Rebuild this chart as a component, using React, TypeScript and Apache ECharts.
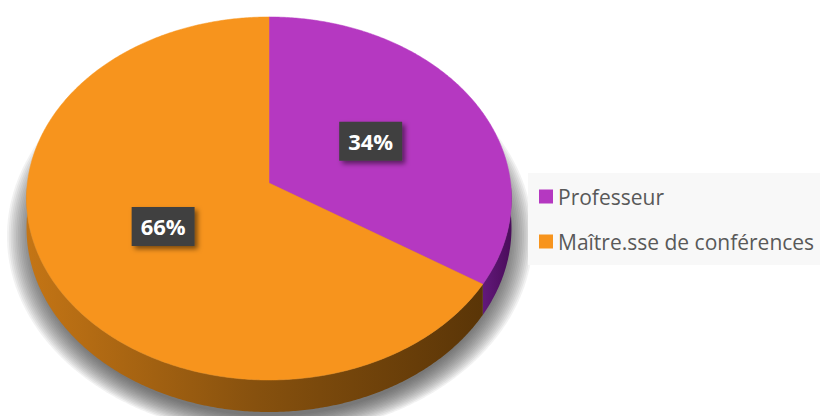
import React, { useEffect, useRef } from 'react';
import * as echarts from 'echarts';

// ---- data ----
const categories: string[] = ['Professeur', 'Maître.sse de conférences'];
const values: number[] = [34, 66];

// ---- styles ----
const topColors: string[] = ['#b538c1', '#f7941d'];
const sideStops: string[][] = [
  ['#62197a', '#4a0c5a'],
  ['#c47515', '#87510e', '#5a3507'],
];

// ---- 3D pie geometry (layout) ----
const CX = 269;
const CY = 183;
const RX = 241.6;
const RY = 180.2;
const P = 0.0853;
const DEPTH = 29.3;

function proj(phi: number, r: number): number[] {
  const X = r * Math.sin(phi);
  const Z = r * Math.cos(phi);
  const w = 1 + P * Z;
  return [CX + (RX * X) / w, CY - (RY * Z) / w];
}

function bottom(phi: number): number[] {
  const p = proj(phi, 1);
  const w = 1 + P * Math.cos(phi);
  return [p[0], p[1] + DEPTH / w];
}

function arcPts(a: number, b: number, fn: (t: number) => number[]): number[][] {
  const n = Math.max(2, Math.ceil((b - a) / (Math.PI / 360)));
  const pts: number[][] = [];
  for (let k = 0; k < n + 1; k++) pts.push(fn(a + ((b - a) * k) / n));
  return pts;
}

const total = values.reduce((s, v) => s + v, 0);

// soft drop shadow under the pie, built from translucent layered ellipse polygons
function shadowLayers(): any[] {
  const out: any[] = [];
  for (let k = 0; k < 16; k++) {
    const rx = 236 + k * 1.8;
    const ry = 180 + k * 1.3;
    const pts = arcPts(0, Math.PI * 2, (t) => [CX + 1 + rx * Math.sin(t), 236 - ry * Math.cos(t)]);
    out.push({
      type: 'polygon',
      silent: true,
      z2: -10,
      shape: { points: pts },
      style: { fill: 'rgba(60,60,60,0.065)' },
    });
  }
  return out;
}

function makeRenderItem(idx: number) {
  return (params: any, api: any) => {
    const v = api.value(0);
    let before = 0;
    for (let k = 0; k < idx; k++) before += values[k];
    const start = (before / total) * Math.PI * 2;
    const end = start + (v / total) * Math.PI * 2;
    const children: any[] = idx === 0 ? shadowLayers() : [];
    // side (front half only)
    const a = Math.max(start, Math.PI / 2);
    const b = Math.min(end, (Math.PI * 3) / 2);
    if (a < b) {
      const topArc = arcPts(a, b, (t) => proj(t, 1));
      const botArc = arcPts(a, b, bottom).reverse();
      const stops = sideStops[idx].map((c, i, arr) => ({ offset: arr.length === 1 ? 0 : i / (arr.length - 1), color: c }));
      children.push({
        type: 'polygon',
        shape: { points: topArc.concat(botArc) },
        style: { fill: new echarts.graphic.LinearGradient(0, 0, 1, 0, stops) },
      });
    }
    // top face
    const rim = arcPts(start, end, (t) => proj(t, 1));
    children.push({
      type: 'polygon',
      shape: { points: [[CX, CY]].concat(rim) },
      style: { fill: topColors[idx], stroke: topColors[idx], lineWidth: 0.5 },
    });
    // label
    const mid = (start + end) / 2;
    const lp = proj(mid, 0.49);
    children.push({
      type: 'text',
      x: lp[0],
      y: lp[1],
      z2: 10,
      style: {
        text: Math.round((v / total) * 100) + '%',
        align: 'center',
        verticalAlign: 'middle',
        fill: '#ffffff',
        font: 'bold 22px "Open Sans", sans-serif',
        backgroundColor: '#404040',
        padding: [9, 9, 8, 9],
        shadowBlur: 5,
        shadowColor: 'rgba(0,0,0,0.5)',
        shadowOffsetX: 3,
        shadowOffsetY: 3,
      },
    });
    return { type: 'group', children };
  };
}

export default function App() {
  const ref = useRef<HTMLDivElement>(null);
  useEffect(() => {
    if (!ref.current) return;
    const chart = echarts.init(ref.current, undefined, { renderer: 'svg' });
    chart.setOption({
      animation: false,
      backgroundColor: '#ffffff',
      color: topColors,
      legend: {
        orient: 'vertical',
        left: 528,
        top: 173,
        padding: [13, 10, 13, 11],
        backgroundColor: '#f8f8f8',
        itemWidth: 14,
        itemHeight: 14,
        itemGap: 24,
        icon: 'rect',
        data: categories,
        textStyle: {
          color: '#595959',
          fontSize: 21,
          fontFamily: '"Open Sans", sans-serif',
          padding: [0, 0, 0, 0],
        },
      },
      series: categories.map((name, i) => ({
        type: 'custom',
        name,
        coordinateSystem: 'none',
        itemStyle: { color: topColors[i] },
        data: [[values[i]]],
        renderItem: makeRenderItem(i),
        z: 2,
      })),
    });
    return () => chart.dispose();
  }, []);
  return (
    <div
      ref={ref}
      style={{ position: 'fixed', left: 0, top: 0, width: 820, height: 416 }}
    />
  );
}
